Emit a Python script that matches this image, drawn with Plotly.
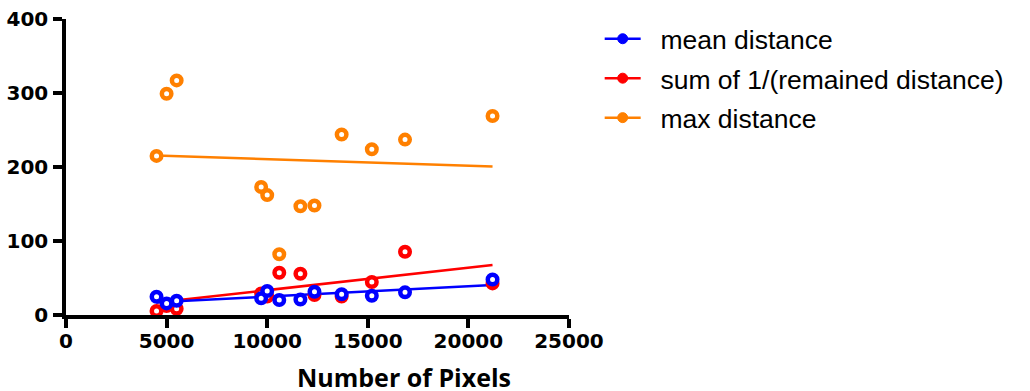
import plotly.graph_objects as go

# ---- data ----
pixels = [4500, 5000, 5500, 9700, 10000, 10600, 11650, 12350, 13700, 15200, 16850, 21200]
mean_distance = [24.7, 15.7, 19.3, 22.5, 32.4, 20.2, 21.0, 31.5, 28.0, 26.0, 30.6, 48.0]
sum_inv_remained = [5.5, 12.0, 8.5, 29.0, 25.0, 57.0, 55.8, 27.0, 25.0, 44.5, 85.5, 42.7]
max_distance = [215, 299, 317, 173, 162, 82, 147, 148, 244, 224, 237, 269]

# fitted trend-line endpoints
fit_x = [4500, 21200]
fit_mean = [17.2, 40.5]
fit_sum = [16.9, 67.5]
fit_max = [215.5, 200.7]

x_ticks = [0, 5000, 10000, 15000, 20000, 25000]
y_ticks = [0, 100, 200, 300, 400]

names = ["mean distance", "sum of 1/(remained distance)", "max distance"]
colors = ["#0000FF", "#FF0000", "#FF8000"]

fig = go.Figure()

series = [
    (max_distance, fit_max, colors[2]),
    (sum_inv_remained, fit_sum, colors[1]),
    (mean_distance, fit_mean, colors[0]),
]
for vals, fit, col in series:
    fig.add_trace(go.Scatter(x=fit_x, y=fit, mode="lines",
                             line=dict(color=col, width=2.5),
                             showlegend=False, hoverinfo="skip"))
for vals, fit, col in series:
    fig.add_trace(go.Scatter(x=pixels, y=vals, mode="markers",
                             marker=dict(symbol="circle", size=9.5, color="white",
                                         line=dict(color=col, width=4.5)),
                             showlegend=False))

# legend-only entries
for i, (nm, col) in enumerate(zip(names, colors)):
    fig.add_trace(go.Scatter(x=[None], y=[None], mode="lines+markers",
                             name="\u00a0\u00a0" + nm,
                             legendgroup=f"g{i}",
                             line=dict(color=col, width=2.5),
                             marker=dict(size=10, color=col, line=dict(color=col, width=1))))

tickfont = dict(family="DejaVu Sans", size=20, color="black", weight="bold")

fig.update_layout(
    width=1030, height=391,
    margin=dict(l=66, r=461, t=19, b=76, autoexpand=False),
    paper_bgcolor="white", plot_bgcolor="white",
    showlegend=True,
    legend=dict(x=1.061, y=1.0135, xanchor="left", yanchor="top",
                font=dict(family="Liberation Sans", size=26.5, color="black"),
                itemwidth=36, tracegroupgap=2, bgcolor="rgba(0,0,0,0)"),
    xaxis=dict(range=[0, 25000], tickvals=x_ticks, ticktext=[str(v) for v in x_ticks],
               showgrid=False, zeroline=False, showline=True, linecolor="black", linewidth=3.5,
               ticks="outside", ticklen=9, tickwidth=3.5, tickcolor="black",
               ticklabelstandoff=-4, tickfont=tickfont, automargin=False),
    yaxis=dict(range=[0, 400], tickvals=y_ticks,
               showgrid=False, zeroline=False, showline=True, linecolor="black", linewidth=3.5,
               ticks="outside", ticklen=9, tickwidth=3.5, tickcolor="black",
               ticklabelstandoff=1, tickfont=tickfont, automargin=False),
    annotations=[dict(text="<b>Number of Pixels</b>", x=0.672, y=-0.209,
                      xref="paper", yref="paper", xanchor="center", yanchor="middle",
                      showarrow=False,
                      font=dict(family="Open Sans", size=25, color="black"))],
)

# remove the default page margin so the figure fills the window exactly
fig.write_html("out.html", config={"displayModeBar": False},
               post_script="document.body.style.margin='0';")
